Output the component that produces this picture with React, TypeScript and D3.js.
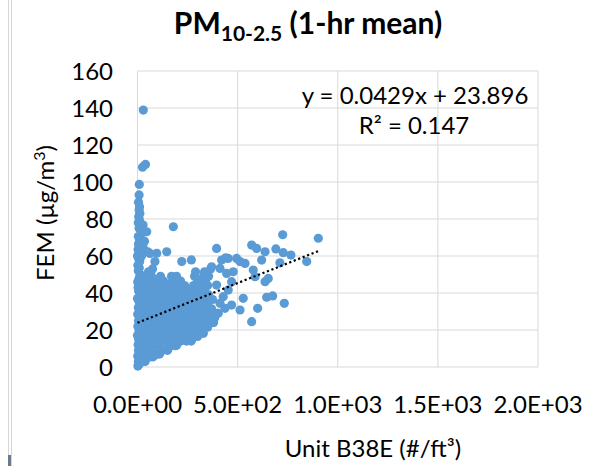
import React from "react";
import * as d3 from "d3";

const W = 599;
const H = 466;

const titleMain = "PM";
const titleSub = "10-2.5";
const titleRest = " (1-hr mean)";
const xAxisTitle = "Unit B38E (#/ft³)";
const yTicks = [0, 20, 40, 60, 80, 100, 120, 140, 160];
const xTicks = [0, 500, 1000, 1500, 2000];
const trendSlope = 0.0429;
const trendIntercept = 23.896;
const eqLine1 = "y = 0.0429x + 23.896";
const eqLine2 = "R² = 0.147";

// Near-zero vertical column of points
const columnPoints: [number, number][] = [
  [2, 0.5], [8, 1.5], [4, 3], [12, 4], [1, 6], [9, 7.5], [5, 9], [14, 10], [3, 12], [10, 13.5],
  [6, 15], [0, 17], [13, 18], [7, 20], [2, 22], [11, 23.5], [5, 25], [15, 27], [1, 28.5], [9, 30],
  [4, 32], [12, 34], [7, 35.5], [0, 37], [14, 39], [6, 41], [3, 43], [10, 44.5], [1, 46], [8, 48],
  [13, 50], [4, 52], [9, 53.5], [2, 55], [11, 57], [6, 58.5], [0, 60], [8, 62], [3, 63.5], [12, 65],
  [5, 66.5], [10, 68], [4, 70.5], [18, 72], [8, 75], [28, 76.7], [4, 78], [10, 79.4], [6, 81.2],
  [12, 83], [8, 84.8], [10, 86.6], [5, 89], [8, 93], [9, 98.7], [25, 108], [40, 109.5], [29, 138.9],
  [46, 73.1], [51, 62.3], [30, 64], [20, 60], [35, 68],
];

// Dense wedge-shaped cloud
const clusterPoints: [number, number][] = [
  [22, 3], [38, 3],
  [30, 5.5], [62, 5.5], [78, 5.5],
  [45, 7], [96, 7], [110, 7],
  [28, 9], [70, 9], [125, 9], [150, 9],
  [40, 11.5], [85, 11.5], [112, 11.5], [165, 11.5], [190, 11.5],
  [25, 14], [60, 14], [100, 14], [140, 14], [180, 14], [215, 14], [245, 14], [268, 14],
  [45, 16.5], [80, 16.5], [120, 16.5], [160, 16.5], [200, 16.5], [235, 16.5], [280, 16.5], [300, 16.5],
  [30, 19], [65, 19], [105, 19], [145, 19], [185, 19], [225, 19], [260, 19], [300, 19], [325, 19],
  [50, 21.5], [90, 21.5], [130, 21.5], [170, 21.5], [210, 21.5], [250, 21.5], [290, 21.5], [330, 21.5], [350, 21.5],
  [25, 24], [70, 24], [110, 24], [150, 24], [195, 24], [235, 24], [275, 24], [315, 24], [360, 24], [380, 24],
  [45, 26.5], [85, 26.5], [125, 26.5], [170, 26.5], [215, 26.5], [255, 26.5], [300, 26.5], [340, 26.5], [385, 26.5],
  [30, 29], [65, 29], [105, 29], [150, 29], [190, 29], [230, 29], [270, 29], [315, 29], [355, 29], [400, 29],
  [50, 31.5], [90, 31.5], [130, 31.5], [175, 31.5], [210, 31.5], [250, 31.5], [295, 31.5], [335, 31.5], [370, 31.5],
  [25, 34], [70, 34], [110, 34], [155, 34], [195, 34], [235, 34], [275, 34], [320, 34], [350, 34],
  [45, 36.5], [85, 36.5], [130, 36.5], [170, 36.5], [215, 36.5], [255, 36.5], [300, 36.5], [340, 36.5], [375, 36.5],
  [30, 39], [65, 39], [105, 39], [150, 39], [190, 39], [230, 39], [270, 39], [315, 39], [355, 39],
  [50, 41.5], [90, 41.5], [125, 41.5], [170, 41.5], [210, 41.5], [250, 41.5], [295, 41.5], [335, 41.5],
  [25, 44], [70, 44], [110, 44], [150, 44], [195, 44], [235, 44], [280, 44], [320, 44], [350, 44],
  [45, 46.5], [90, 46.5], [130, 46.5], [175, 46.5], [215, 46.5], [300, 46.5], [340, 46.5],
  [30, 49], [70, 49], [115, 49], [170, 49], [195, 49], [285, 49], [330, 49], [355, 49],
  [55, 51.5], [290, 51.5], [335, 51.5],
  [75, 53], [365, 53],
];

// Sparse points outside the dense cloud
const outlierPoints: [number, number][] = [
  [96, 61.5], [146, 62.3], [221, 57], [269, 57.9], [179, 75.8], [62, 61.4], [87, 57],
  [395, 64.1], [370, 54.2], [420, 57.8], [440, 59], [453, 58.7], [495, 58.7], [512, 57], [537, 56],
  [478, 51.5], [445, 50.6], [412, 53.3], [395, 44.3], [453, 41.6], [470, 46.1], [428, 38],
  [412, 34.4], [470, 33.5], [512, 30.8], [528, 37.1], [437, 31.7], [403, 29], [378, 24.5],
  [570, 24.5], [600, 31.7], [645, 37.7], [675, 38.4], [733, 34.4], [578, 52.4], [587, 48.8],
  [637, 46.1], [653, 47.9], [620, 57.8], [570, 65.9], [595, 64.1], [637, 62.3], [691, 63.8],
  [725, 71.5], [728, 61.8], [766, 60.5], [711, 56.3], [845, 57], [903, 69.6],
  [71, 5.6], [96, 7], [154, 10.1], [196, 11.9], [270, 14.6], [329, 18.2],
];

const allPoints = [...columnPoints, ...clusterPoints, ...outlierPoints];

const FONT = "Lato, 'Open Sans', sans-serif";

function fmtSci(v: number): string {
  if (v === 0) return "0.0E+00";
  const e = Math.floor(Math.log10(Math.abs(v)));
  const m = v / Math.pow(10, e);
  const sign = e < 0 ? "-" : "+";
  return `${m.toFixed(1)}E${sign}${String(Math.abs(e)).padStart(2, "0")}`;
}

export default function App() {
  const x = d3.scaleLinear().domain([0, 2000]).range([137.5, 538]);
  const y = d3.scaleLinear().domain([0, 160]).range([367, 71]);
  const xMin = d3.min(allPoints, (d) => d[0]) as number;
  const xMax = d3.max(allPoints, (d) => d[0]) as number;
  const trend = d3
    .line<number>()
    .x((d) => x(d))
    .y((d) => y(trendSlope * d + trendIntercept));

  return (
    <div style={{ position: "fixed", left: 0, top: 0, width: W, height: H, background: "#fff" }}>
      <svg width={W} height={H} style={{ display: "block" }} fontFamily={FONT}>
        <rect width={W} height={H} fill="#fff" />
        {/* left window border */}
        <line x1={8.5} x2={8.5} y1={0} y2={H} stroke="#d6d6d6" strokeWidth={1} />
        <line x1={11.5} x2={11.5} y1={0} y2={H} stroke="#d6d6d6" strokeWidth={1} />
        <rect x={8} y={455} width={3} height={11} fill="#6b7b8c" />

        {/* gridlines */}
        {yTicks.map((t) => (
          <line key={"gy" + t} x1={x(0)} x2={x(2000)} y1={y(t)} y2={y(t)} stroke="#d9d9d9" strokeWidth={1} />
        ))}
        {xTicks.map((t) => (
          <line key={"gx" + t} x1={x(t)} x2={x(t)} y1={y(0)} y2={y(160)} stroke="#d9d9d9" strokeWidth={1} />
        ))}

        {/* points */}
        {allPoints.map((p, i) => (
          <circle key={i} cx={x(p[0])} cy={y(p[1])} r={4.6} fill="#5b9bd5" />
        ))}

        {/* trendline */}
        <path
          d={trend([xMin, xMax]) || ""}
          fill="none"
          stroke="#000"
          strokeWidth={2.2}
          strokeDasharray="2.2 2.6"
        />

        {/* y tick labels */}
        {yTicks.map((t) => (
          <text key={"ty" + t} x={113} y={y(t) + 9} textAnchor="end" fontSize={24} fill="#000">
            {t}
          </text>
        ))}
        {/* x tick labels */}
        {xTicks.map((t) => (
          <text key={"tx" + t} x={x(t)} y={413} textAnchor="middle" fontSize={24} fill="#000">
            {fmtSci(t)}
          </text>
        ))}

        {/* title */}
        <text x={308} y={34} textAnchor="middle" fontWeight="bold" fontSize={30} fill="#000">
          {titleMain}
          <tspan fontSize={21} dy={7}>{titleSub}</tspan>
          <tspan dy={-7}>{titleRest}</tspan>
        </text>

        {/* equation */}
        <text x={415} y={104} textAnchor="middle" fontSize={24} fill="#000">{eqLine1}</text>
        <text x={414} y={134} textAnchor="middle" fontSize={24} fill="#000">{eqLine2}</text>

        {/* axis titles */}
        <text x={373} y={457} textAnchor="middle" fontSize={24} fill="#000">{xAxisTitle}</text>
        <text transform="translate(54,213) rotate(-90)" textAnchor="middle" fontSize={24} fill="#000">
          FEM (µg/m<tspan fontSize={16} dy={-9}>3</tspan><tspan dy={9}>)</tspan>
        </text>
      </svg>
    </div>
  );
}
